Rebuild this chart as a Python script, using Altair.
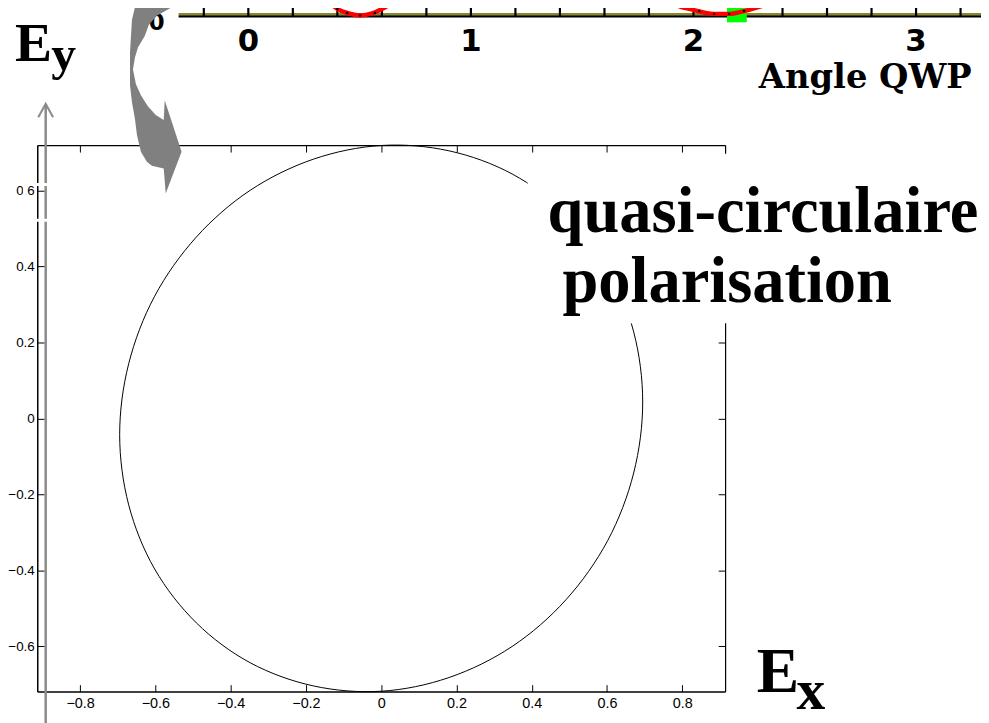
import altair as alt
import pandas as pd

# ---------------- data ----------------
# main panel: trajectory of the field (Ex, Ey)
ell_x = [0.695, 0.671, 0.602, 0.491, 0.348, 0.180, 0.000, -0.180, -0.348, -0.491, -0.602, -0.671,
         -0.695, -0.671, -0.602, -0.491, -0.348, -0.180, 0.000, 0.180, 0.348, 0.491, 0.602, 0.671]
ell_y = [0.043, 0.228, 0.397, 0.539, 0.644, 0.705, 0.719, 0.683, 0.601, 0.478, 0.322, 0.144,
         -0.043, -0.228, -0.397, -0.539, -0.644, -0.705, -0.719, -0.683, -0.601, -0.478, -0.322, -0.144]
x_ticks = [-0.8, -0.6, -0.4, -0.2, 0, 0.2, 0.4, 0.6, 0.8]
y_ticks = [-0.6, -0.4, -0.2, 0, 0.2, 0.4, 0.6]

# top fragment (Angle QWP axis of another figure)
top_ticks = [-0.2, 0, 0.2, 0.4, 0.6, 0.8, 1, 1.2, 1.4, 1.6, 1.8, 2, 2.2, 2.4, 2.6, 2.8, 3, 3.2]
top_labels = [0, 1, 2, 3]
top_span = [-0.3133, 3.2918]
red_v = [-0.31, 0.0, 0.2, 0.337, 0.3685, 0.400, 0.444, 0.502, 0.556, 0.600, 0.636, 0.667,
         0.85, 1.1, 1.4, 1.65, 1.870, 1.915, 1.990, 2.093, 2.160, 2.240, 2.316, 2.352, 2.396,
         2.6, 2.9, 3.29]
red_h = [1.0, 0.9, 0.5, 0.2, 0.125, 0.065, 0.025, 0.0, 0.02, 0.065, 0.115, 0.2,
         0.5, 0.9, 1.0, 0.5, 0.2, 0.115, 0.06, 0.015, 0.015, 0.05, 0.10, 0.125, 0.2,
         0.5, 0.9, 1.0]
dot_v = [0.400, 0.444, 0.502, 0.569, 2.026, 2.093, 2.160, 2.227]
dot_h = [0.065, 0.025, 0.0, 0.025, 0.045, 0.015, 0.015, 0.045]
sq_v = [0.631, 1.888, 2.195]
sq_h = [0.185, 0.185, 0.03]
sq_c = ["#0000ff", "#00ff00", "#00ff00"]

# texts
ey_text = ["E", "y"]
ex_text = ["E", "x"]
note_lines = ["quasi-circulaire", "polarisation"]
top_title = "Angle QWP"
hidden_digit = "0"

# ---------------- main panel ----------------
ell = pd.DataFrame({"ex": ell_x, "ey": ell_y, "i": list(range(len(ell_x)))})
xs = alt.Scale(domain=[-0.914, 0.914], nice=False, zero=False)
ys = alt.Scale(domain=[-0.72, 0.72], nice=False, zero=False)
lab = dict(labelFont="Liberation Sans", labelColor="black",
           format="~g", labelFlush=False, title=None, grid=False)
tk = dict(ticks=True, tickSize=7, tickColor="black", tickWidth=1, domain=False,
          labels=False, title=None, grid=False, offset=-7)
dom = dict(ticks=False, tickSize=0, labels=False, domain=True, domainColor="black",
           domainWidth=1.2, title=None, grid=False)

base = alt.Chart(ell)
line = base.mark_line(color="black", strokeWidth=1, interpolate="cardinal-closed").encode(
    x=alt.X("ex:Q", scale=xs, axis=alt.Axis(orient="bottom", values=x_ticks, ticks=False, tickSize=0,
                                           domainColor="black", domainWidth=1.5, labelPadding=5,
                                           labelFontSize=14.5, **lab)),
    y=alt.Y("ey:Q", scale=ys, axis=alt.Axis(orient="left", values=y_ticks, ticks=False, tickSize=0,
                                           domainColor="black", domainWidth=1.5, labelPadding=3,
                                           labelFontSize=13.5, **lab)),
    order="i:Q",
)
l2 = base.mark_point(opacity=0).encode(
    x=alt.X("ex:Q", scale=xs, axis=alt.Axis(orient="bottom", values=x_ticks, **tk)),
    y=alt.Y("ey:Q", scale=ys, axis=alt.Axis(orient="left", values=y_ticks, **tk)),
)
l3 = base.mark_point(opacity=0).encode(
    x=alt.X("ex:Q", scale=xs, axis=alt.Axis(orient="top", values=x_ticks, **dom)),
    y=alt.Y("ey:Q", scale=ys, axis=alt.Axis(orient="right", values=y_ticks, **dom)),
)
l4 = base.mark_point(opacity=0).encode(
    x=alt.X("ex:Q", scale=xs, axis=alt.Axis(orient="top", values=x_ticks, **tk)),
    y=alt.Y("ey:Q", scale=ys, axis=alt.Axis(orient="right", values=y_ticks, **tk)),
)
main_group = alt.layer(line, l2, l3, l4).resolve_axis(x="independent", y="independent")

# ---------------- top fragment ----------------
tx = alt.Scale(domain=top_span, range=[142.5, 951.5], nice=False, zero=False)
ty = alt.Scale(domain=[0, 1], range=[-130.8, -230.8], nice=False, zero=False)
red_df = pd.DataFrame({"v": red_v, "h": red_h})
dot_df = pd.DataFrame({"v": dot_v, "h": dot_h})
sq_df = pd.DataFrame({"v": sq_v, "h": sq_h, "c": sq_c})
span_df = pd.DataFrame({"v": [top_span[0]], "v2": [top_span[1]]})
tick_df = pd.DataFrame({"v": top_ticks})
tlab_df = pd.DataFrame({"v": top_labels, "s": [str(t) for t in top_labels]})

olive = alt.Chart(span_df).mark_rule(color="#8a8a20", strokeWidth=2).encode(
    x=alt.X("v:Q", scale=tx, axis=None), x2="v2:Q", y=alt.value(-132.3))
tdomain = alt.Chart(span_df).mark_rule(color="black", strokeWidth=2.5).encode(
    x=alt.X("v:Q", scale=tx, axis=None), x2="v2:Q", y=alt.value(-129.8))
tticks = alt.Chart(tick_df).mark_rule(color="black", strokeWidth=2.2).encode(
    x=alt.X("v:Q", scale=tx, axis=None), y=alt.value(-141.3), y2=alt.value(-129.8))
tlabels = alt.Chart(tlab_df).mark_text(font="DejaVu Sans", fontWeight="bold", fontSize=31,
                                       color="black", align="center", baseline="alphabetic").encode(
    x=alt.X("v:Q", scale=tx, axis=None), y=alt.value(-95.3), text="s:N")
squares = alt.Chart(sq_df).mark_square(size=400, opacity=1, filled=True).encode(
    x=alt.X("v:Q", scale=tx, axis=None), y=alt.Y("h:Q", scale=ty, axis=None),
    color=alt.Color("c:N", scale=None))
red = alt.Chart(red_df).mark_line(color="#ff0000", strokeWidth=4.5, interpolate="monotone").encode(
    x=alt.X("v:Q", scale=tx, axis=None), y=alt.Y("h:Q", scale=ty, axis=None))
dots = alt.Chart(dot_df).mark_point(filled=True, color="black", size=6, opacity=1).encode(
    x=alt.X("v:Q", scale=tx, axis=None), y=alt.Y("h:Q", scale=ty, axis=None))
top_group = alt.layer(olive, tdomain, tticks, tlabels, squares, red, dots)

# ---------------- annotations ----------------
one = pd.DataFrame({"k": [0]})


def txt(s, x, y, size, font="Liberation Serif", weight="bold"):
    return alt.Chart(one).mark_text(text=s, align="left", baseline="alphabetic", font=font,
                                    fontWeight=weight, fontSize=size, color="black").encode(
        x=alt.value(x), y=alt.value(y))


ghost = alt.Chart(one).mark_text(text=hidden_digit, align="center", baseline="alphabetic",
                                 font="DejaVu Sans", fontWeight="bold", fontSize=23,
                                 color="black").encode(x=alt.value(120.5), y=alt.value(-116.3))

whitebox = alt.Chart(one).mark_rect(color="white").encode(
    x=alt.value(494.5), x2=alt.value(965), y=alt.value(8.7), y2=alt.value(179.7))

grayline = alt.Chart(one).mark_rule(color="#8a8a8a", strokeWidth=2.5).encode(
    x=alt.value(8.5), y=alt.value(-41), y2=alt.value(590))
chevron = alt.Chart(one).mark_point(shape="M-1,0.9L0,-0.9L1,0.9", size=225, filled=False,
                                    color="#8a8a8a", strokeWidth=2, opacity=1).encode(
    x=alt.value(8.5), y=alt.value(-34.8))
outline = alt.Chart(one).mark_rect(filled=False, stroke="white", strokeWidth=3).encode(
    x=alt.value(-12.9), x2=alt.value(62.5), y=alt.value(39.7), y2=alt.value(75.7))

arrow_path = ("M-0.18,-1.07 L-0.21,-0.95 L-0.25,-0.78 L-0.26,-0.62 L-0.27,-0.45 L-0.27,-0.28 "
              "L-0.27,-0.12 L-0.25,0.05 L-0.22,0.22 L-0.20,0.38 L-0.16,0.55 L-0.10,0.65 L-0.05,0.69 "
              "L0.07,0.72 L0.09,0.97 L0.25,0.55 L0.08,0.03 L0.07,0.23 L-0.01,0.18 L-0.09,0.09 "
              "L-0.16,-0.02 L-0.21,-0.13 L-0.24,-0.28 L-0.22,-0.40 L-0.19,-0.50 L-0.12,-0.62 "
              "L-0.08,-0.73 L0.00,-0.82 L0.12,-0.89 L0.24,-0.95 L0.38,-1.07 Z")
curved = alt.Chart(one).mark_point(shape=arrow_path, size=40000, filled=True, color="#808080",
                                   strokeWidth=0, opacity=1).encode(
    x=alt.value(120.5), y=alt.value(-48.3))

t1 = txt(note_lines[0], 514.5, 87.7, 65)
t2 = txt(note_lines[1], 529.5, 157.7, 65)
ey1 = txt(ey_text[0], -22.5, -85.3, 56)
ey2 = txt(ey_text[1], 14.0, -75.3, 50)
ex1 = txt(ex_text[0], 725.5, 551.7, 64)
ex2 = txt(ex_text[1], 765.5, 568.7, 58)
angle = txt(top_title, 727.5, -57.3, 34, font="DejaVu Serif")

chart = alt.layer(
    top_group, ghost, main_group, whitebox, grayline, chevron, outline, curved,
    t1, t2, ey1, ey2, ex1, ex2, angle
).resolve_scale(x="independent", y="independent").properties(
    width=693.5, height=551,
    padding={"left": 29.5, "top": 135.3, "right": 258, "bottom": 28.7},
    autosize=alt.AutoSizeParams(type="none"),
    background="white",
).configure_view(strokeWidth=0)

chart.save("out.html", embed_options={"renderer": "svg", "actions": False})
